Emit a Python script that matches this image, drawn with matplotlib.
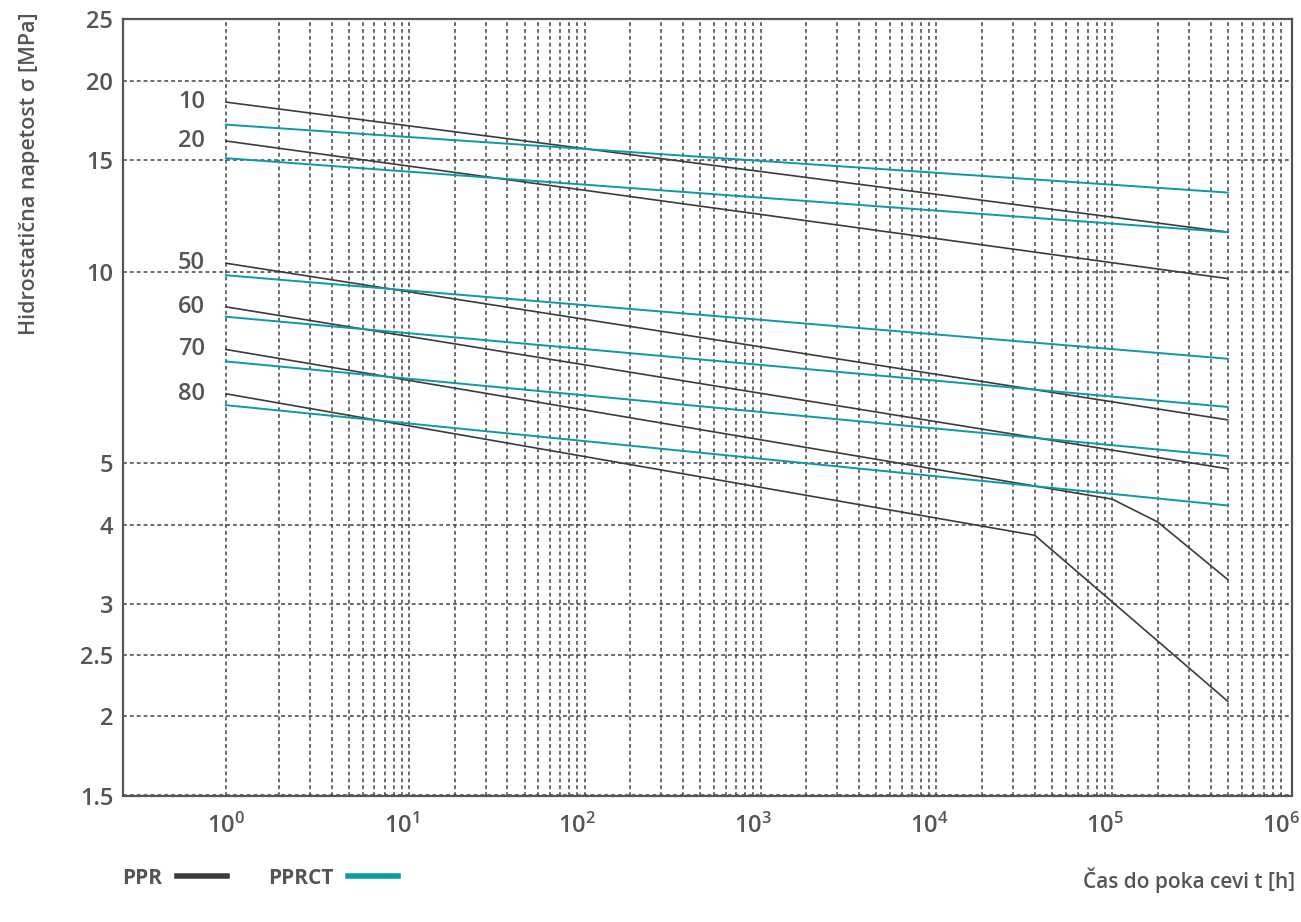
import numpy as np
import matplotlib.pyplot as plt
from matplotlib.lines import Line2D
from matplotlib.ticker import FixedLocator, NullFormatter

plt.rcParams['font.family'] = ['Open Sans', 'DejaVu Sans']
plt.rcParams['mathtext.default'] = 'regular'

# time to failure [h] and hydrostatic stress [MPa]
temps = ["10", "20", "50", "60", "70", "80"]

ppr_t = [
    [1, 5e5],
    [1, 5e5],
    [1, 5e5],
    [1, 5e5],
    [1, 1.1e5, 2e5, 5e5],
    [1, 4e4, 5e5],
]
ppr_s = [
    [18.5, 11.55],
    [16.07, 9.76],
    [10.32, 5.85],
    [8.81, 4.90],
    [7.55, 4.39, 4.04, 3.28],
    [6.43, 3.85, 2.11],
]

pprct_t = [1, 5e5]
pprct_s = [
    [17.05, 13.33],
    [15.1, 11.55],
    [9.88, 7.30],
    [8.5, 6.13],
    [7.23, 5.13],
    [6.17, 4.29],
]

y_ticks = [1.5, 2, 2.5, 3, 4, 5, 10, 15, 20, 25]
y_labels = ["1.5", "2", "2.5", "3", "4", "5", "10", "15", "20", "25"]
x_exps = [0, 1, 2, 3, 4, 5, 6]

PPR_COLOR = "#3c3c3c"
PPRCT_COLOR = "#0a9ba3"
TEXT_COLOR = "#555555"
GRID_COLOR = "#444444"


def minor_x_positions():
    pos = []
    for e in x_exps[:-1]:
        base = 10.0 ** e
        pos += [m * base for m in range(2, 10)]
        if e > 0:
            pos.append(1.1 * base)
    return pos


def setup_axes(ax):
    ax.set_xscale("log")
    ax.set_yscale("log")
    ax.set_xlim(0.26, 1.16e6)
    ax.set_ylim(1.5, 25)

    ax.xaxis.set_major_locator(FixedLocator([10.0 ** e for e in x_exps]))
    ax.set_xticklabels([r"$10^{%d}$" % e for e in x_exps])
    ax.xaxis.set_minor_locator(FixedLocator(minor_x_positions()))
    ax.xaxis.set_minor_formatter(NullFormatter())

    ax.yaxis.set_major_locator(FixedLocator(y_ticks))
    ax.set_yticklabels(y_labels)
    ax.yaxis.set_minor_locator(FixedLocator([]))

    ax.tick_params(which="both", length=0)
    ax.tick_params(axis="y", pad=7, labelsize=17, labelcolor=TEXT_COLOR)
    ax.tick_params(axis="x", pad=13, labelsize=17, labelcolor=TEXT_COLOR)
    for lbl in ax.get_xticklabels() + ax.get_yticklabels():
        lbl.set_fontweight(600)

    grid_style = dict(color=GRID_COLOR, linewidth=1.1, linestyle=(0, (2.5, 2)))
    ax.grid(which="both", axis="x", **grid_style)
    ax.grid(which="major", axis="y", **grid_style)
    ax.set_axisbelow(True)

    for sp in ax.spines.values():
        sp.set_color("#555555")
        sp.set_linewidth(1.6)


def plot_curves(ax):
    for t, s in zip(ppr_t, ppr_s):
        ax.plot(t, s, color=PPR_COLOR, lw=1.2, zorder=3)
    for s in pprct_s:
        ax.plot(pprct_t, s, color=PPRCT_COLOR, lw=1.4, zorder=3)
    for lbl, s in zip(temps, ppr_s):
        ax.annotate(lbl, xy=(1, s[0]), xytext=(-15, 0), textcoords="offset points",
                    ha="right", va="center", fontsize=17, fontweight=600,
                    color=TEXT_COLOR)


def main():
    fig = plt.figure(figsize=(13.01, 9.22), dpi=100)
    ax = fig.add_axes([123 / 1301, (922 - 795.5) / 922,
                       (1292 - 123) / 1301, (795.5 - 19) / 922])
    setup_axes(ax)
    plot_curves(ax)

    fig.text(30 / 1301, 1 - 174 / 922, "Hidrostatična napetost σ [MPa]",
             rotation=90, ha="center", va="center", fontsize=15.5,
             color=TEXT_COLOR, fontweight=600)
    fig.text(1295 / 1301, 1 - 880 / 922, "Čas do poka cevi t [h]",
             ha="right", va="center", fontsize=15, color=TEXT_COLOR,
             fontweight=600)

    handles = [Line2D([], [], color=PPR_COLOR, lw=4),
               Line2D([], [], color=PPRCT_COLOR, lw=4)]
    fig.legend(handles, ["PPR", "PPRCT"], ncol=2, markerfirst=False,
               frameon=False, loc="center left",
               bbox_to_anchor=(122 / 1301, 1 - 878 / 922),
               prop=dict(weight="bold", size=15), labelcolor=TEXT_COLOR,
               handlelength=2.4, handletextpad=0.7, columnspacing=2.0,
               borderpad=0, borderaxespad=0)

    fig.savefig("out.png", dpi=100)


if __name__ == "__main__":
    main()
